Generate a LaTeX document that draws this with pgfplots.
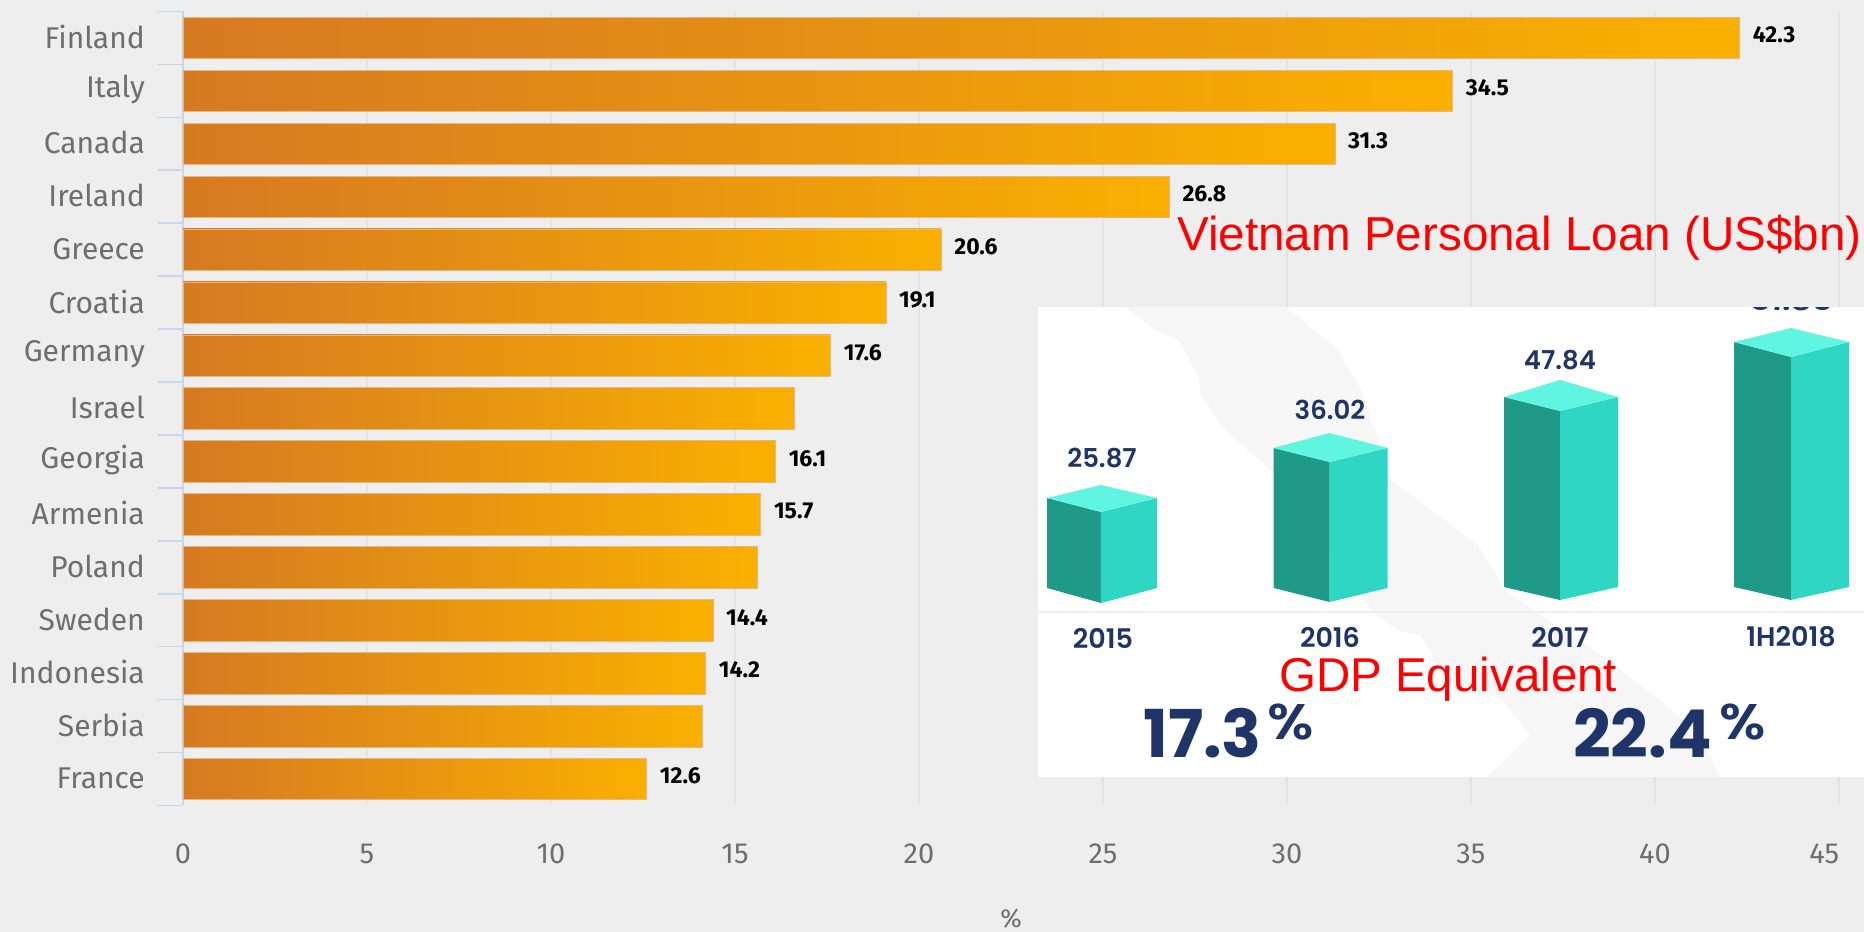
\documentclass[border=0pt]{standalone}
\usepackage{pgfplots}
\pgfplotsset{compat=1.18}
\usepackage{fontspec}
\setmainfont{Fira Sans}
\newfontfamily\redfont{Liberation Sans}
\newfontfamily\navyfont{Poppins}[BoldFont=* SemiBold]
\newfontfamily\navybold{Poppins}[BoldFont=* Bold]
\definecolor{pagebg}{HTML}{EEEEEE}
\definecolor{gridc}{HTML}{E3E3E3}
\definecolor{axisc}{HTML}{CCD6EB}
\definecolor{lab}{HTML}{6E6E6E}
\definecolor{barl}{HTML}{D67A22}
\definecolor{barr}{HTML}{F9B000}
\definecolor{bard}{HTML}{1F9A89}
\definecolor{barm}{HTML}{2FD6C4}
\definecolor{bart}{HTML}{5FF5E0}
\definecolor{navy}{HTML}{1F3468}
\definecolor{mapc}{HTML}{F6F6F7}
\newcommand{\fs}[1]{\fontsize{#1}{#1}\selectfont}
\pgfplotsset{gbar/.style={xbar,bar width=41.5pt,bar shift=0pt,left color=barl,right color=barr,draw=barl!55!white,line width=0.6pt,
  point meta=explicit symbolic,
  nodes near coords,
  nodes near coords style={anchor=west,inner sep=0pt,xshift=13pt,yshift=3pt,font=\fs{23}\bfseries,text=black}}}
\begin{document}
\begin{tikzpicture}[x=1pt,y=1pt]
\path[use as bounding box] (0,0) rectangle (1864,932);
\fill[pagebg] (0,0) rectangle (1864,932);
\begin{axis}[
  at={(183pt,126.5pt)},anchor=south west,
  scale only axis,width=1681pt,height=794pt,
  xmin=0,xmax=45.68,ymin=-0.5,ymax=14.5,clip=false,
  axis y line*=left,axis x line*=bottom,
  x axis line style={draw=none},
  y axis line style={draw=axisc,line width=1.6pt,-},
  tick align=outside,
  major tick length=0pt,
  minor tick length=25pt,
  x tick style={draw=none},
  y tick style={draw=axisc,line width=1.6pt},
  xtick={0,5,...,45},
  xticklabels={0,5,10,15,20,25,30,35,40,{\makebox[0pt][r]{45}}},
  xticklabel style={anchor=center,yshift=-48pt,font=\fs{29},text=lab},
  ytick={0,...,14},
  minor ytick={-0.5,0.5,...,14.5},
  yticklabels={France,Serbia,Indonesia,Sweden,Poland,Armenia,Georgia,Israel,Germany,Croatia,Greece,Ireland,Canada,Italy,Finland},
  yticklabel style={anchor=east,xshift=-38pt,yshift=1pt,inner sep=0pt,font=\fs{30},text=lab},
  xmajorgrids,grid style={gridc,line width=1.3pt},
  xlabel={\%},
  xlabel style={at={(axis description cs:0.4926,-0.142)},anchor=center,font=\fs{26},text=lab},
]
\addplot[gbar] coordinates {(12.6,0) [12.6]};
\addplot[gbar] coordinates {(14.1,1) [{}]};
\addplot[gbar] coordinates {(14.2,2) [14.2]};
\addplot[gbar] coordinates {(14.4,3) [14.4]};
\addplot[gbar] coordinates {(15.6,4) [{}]};
\addplot[gbar] coordinates {(15.7,5) [15.7]};
\addplot[gbar] coordinates {(16.1,6) [16.1]};
\addplot[gbar] coordinates {(16.6,7) [{}]};
\addplot[gbar] coordinates {(17.6,8) [17.6]};
\addplot[gbar] coordinates {(19.1,9) [19.1]};
\addplot[gbar] coordinates {(20.6,10) [20.6]};
\addplot[gbar] coordinates {(26.8,11) [26.8]};
\addplot[gbar] coordinates {(31.3,12) [31.3]};
\addplot[gbar] coordinates {(34.5,13) [34.5]};
\addplot[gbar] coordinates {(42.3,14) [42.3]};
\end{axis}
\begin{axis}[
  at={(0pt,0pt)},anchor=south west,
  scale only axis,width=1864pt,height=932pt,
  xmin=0,xmax=1864,ymin=0,ymax=932,y dir=reverse,hide axis,clip=false,
]
% inset panel
\addplot[fill=white,draw=none] coordinates {(1038,307)(1864,307)(1864,777)(1038,777)};
% faint map
\addplot[fill=mapc,draw=none] coordinates {(1125,307)(1155,330)(1178,340)(1198,375)(1201,395)(1225,430)(1271,470)(1373,612)(1397,630)(1420,635)(1447,680)(1503,700)(1530,735)(1487,777)(1720,777)(1700,735)(1660,700)(1607,660)(1505,590)(1478,545)(1391,480)(1361,390)(1338,350)(1286,307)};
% baseline
\addplot[draw=gridc!60!white,line width=1.5pt] coordinates {(1038,612)(1864,612)};
% 2015
\addplot[fill=bard,draw=none] coordinates {(1047,498)(1101,512)(1101,603)(1047,588)};
\addplot[fill=barm,draw=none] coordinates {(1101,512)(1157,498)(1157,588)(1101,603)};
\addplot[fill=bart,draw=none] coordinates {(1047,498)(1101,485)(1157,498)(1101,512)};
% 2016
\addplot[fill=bard,draw=none] coordinates {(1273.5,448)(1329.5,462)(1329.5,602)(1273.5,588)};
\addplot[fill=barm,draw=none] coordinates {(1329.5,462)(1387.5,448)(1387.5,588)(1329.5,602)};
\addplot[fill=bart,draw=none] coordinates {(1273.5,448)(1329.5,433)(1387.5,448)(1329.5,462)};
% 2017
\addplot[fill=bard,draw=none] coordinates {(1504,397)(1560,411)(1560,600)(1504,587)};
\addplot[fill=barm,draw=none] coordinates {(1560,411)(1618,397)(1618,587)(1560,600)};
\addplot[fill=bart,draw=none] coordinates {(1504,397)(1560,380)(1618,397)(1560,411)};
% 1H2018
\addplot[fill=bard,draw=none] coordinates {(1734,342)(1791,357)(1791,600)(1734,587)};
\addplot[fill=barm,draw=none] coordinates {(1791,357)(1849,342)(1849,587)(1791,600)};
\addplot[fill=bart,draw=none] coordinates {(1734,342)(1791,328)(1849,342)(1791,357)};
% texts in the panel
\begin{scope}
\clip (axis cs:1038,307) rectangle (axis cs:1864,777);
\node[anchor=base,inner sep=0pt,text=navy,font=\navyfont\fs{26}\bfseries,xscale=1.25] at (axis cs:1791,310) {51.85};
\end{scope}
\tikzset{nv/.style={inner sep=0pt,text=navy,font=\navyfont\fs{#1}\bfseries}}
\node[nv=26] at (axis cs:1102,458) {25.87};
\node[nv=26] at (axis cs:1330,410) {36.02};
\node[nv=26] at (axis cs:1560,360) {47.84};
\node[nv=27] at (axis cs:1103,638) {2015};
\node[nv=27] at (axis cs:1330,637) {2016};
\node[nv=27] at (axis cs:1560,637) {2017};
\node[nv=27] at (axis cs:1791,637) {1H2018};
\tikzset{nb/.style={inner sep=0pt,text=navy,font=\navybold\fs{66}\bfseries},
         np/.style={inner sep=0pt,text=navy,font=\navyfont\fs{50}\bfseries,xscale=1.12}}
\node[nb,anchor=base west] at (axis cs:1143,757) {17.3};
\node[np,anchor=base west] at (axis cs:1267,739) {\%};
\node[nb,anchor=base west] at (axis cs:1573,757) {22.4};
\node[np,anchor=base west] at (axis cs:1719,739) {\%};
% red annotations
\node[anchor=base west,inner sep=0pt,text=red,font=\redfont\fs{47.6}] at (axis cs:1177,250) {Vietnam Personal Loan (US\$bn)};
\node[anchor=base west,inner sep=0pt,text=red,font=\redfont\fs{47.5}] at (axis cs:1279,691) {GDP Equivalent};
\end{axis}
\end{tikzpicture}
\end{document}
